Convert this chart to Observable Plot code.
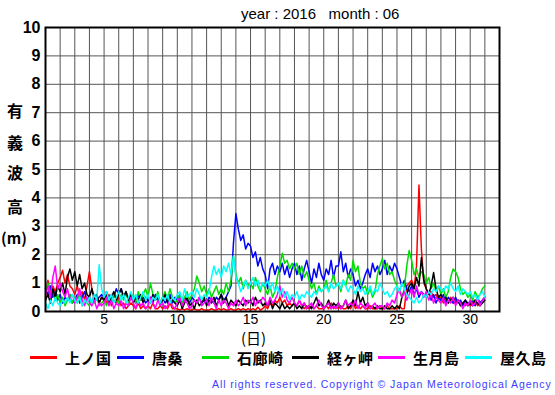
<!DOCTYPE html>
<html><head><meta charset="utf-8">
<script src="https://cdn.jsdelivr.net/npm/d3@7"></script>
<script src="https://cdn.jsdelivr.net/npm/@observablehq/plot@0.6"></script>
<style>
body{margin:0;background:#fff;}
#wrap{position:relative;width:555px;height:395px;overflow:hidden;font-family:"Liberation Sans",Arial,sans-serif;}
.abs{position:absolute;white-space:pre;line-height:1;}
.jp{font-family:"Noto Sans CJK JP",sans-serif;font-weight:700;}
</style></head>
<body><div id="wrap"></div>
<script>
const stations = ["上ノ国","唐桑","石廊崎","経ヶ岬","生月島","屋久島"];
const colors = ["#ff0000","#0000ff","#00dd00","#000000","#ff00ff","#00ffff"];
const xTicks = [5,10,15,20,25,30];
const yTicks = [0,1,2,3,4,5,6,7,8,9,10];
// values every 4 hours from day 1.0 to day 31.0
const kaminokuni = [
0.5,1.1,0.6,0.9,0.7,1.0, 1.2,1.45,1.0,1.3,0.9,0.8, 0.6,0.9,0.5,0.7,0.4,0.9, 1.4,0.8,0.5,0.6,0.3,0.5,
0.4,0.3,0.6,0.2,0.4,0.3, 0.5,0.2,0.3,0.1,0.2,0.3, 0.2,0.1,0.3,0.1,0.2,0.1, 0.2,0.1,0.3,0.1,0.1,0.2,
0.1,0.2,0.1,0.3,0.1,0.1, 0.1,0.05,0.1,0.05,0.1,0.05, 0.05,0.1,0.05,0.05,0.1,0.05, 0.05,0.05,0.1,0.05,0.05,0.1,
0.05,0.1,0.05,0.05,0.1,0.05, 0.05,0.1,0.05,0.1,0.05,0.1, 0.05,0.1,0.05,0.15,0.05,0.1, 0.2,0.1,0.3,0.2,0.4,0.3,
0.5,0.3,0.4,0.2,0.3,0.2, 0.3,0.2,0.4,0.2,0.1,0.2, 0.1,0.2,0.1,0.2,0.1,0.1, 0.1,0.2,0.1,0.3,0.1,0.2,
0.1,0.2,0.1,0.1,0.2,0.1, 0.3,0.1,0.2,0.1,0.2,0.1, 0.1,0.2,0.1,0.1,0.1,0.2, 0.1,0.1,0.2,0.1,0.1,0.1,
0.1,0.2,0.1,0.1,0.9,1.0, 1.1,0.8,1.6,4.45,2.2,1.0, 0.8,0.6,0.7,0.5,0.6,0.4, 0.5,0.3,0.4,0.3,0.5,0.3,
0.3,0.4,0.2,0.3,0.2,0.3, 0.2,0.3,0.4,0.2,0.3,0.4, 0.5];
const karakuwa = [
0.8,0.6,0.9,0.5,0.7,0.4, 0.6,0.3,0.5,0.4,0.6,0.3, 0.4,0.6,0.3,0.5,0.7,0.4, 0.5,0.3,0.6,0.4,0.5,0.6,
0.5,0.7,0.4,0.6,0.5,0.8, 0.6,0.8,0.5,0.7,0.4,0.6, 0.5,0.3,0.6,0.4,0.5,0.3, 0.4,0.5,0.3,0.6,0.4,0.3,
0.5,0.3,0.4,0.6,0.3,0.5, 0.4,0.6,0.3,0.5,0.4,0.3, 0.5,0.4,0.3,0.5,0.3,0.4, 0.3,0.5,0.4,0.3,0.5,0.4,
0.6,0.4,0.5,0.7,0.9,2.4, 3.45,2.9,2.5,2.7,2.2,2.4, 2.3,1.9,2.1,1.6,1.9,1.5, 1.3,0.8,1.5,1.7,1.3,1.6,
1.4,1.7,1.3,1.6,1.2,1.5, 1.7,1.3,1.6,1.1,1.5,1.8, 1.4,1.0,1.5,1.2,1.7,1.3, 1.1,1.5,1.3,1.8,1.2,1.6,
1.6,2.1,1.4,1.7,1.2,1.5, 1.3,0.9,1.1,0.8,1.0,1.3, 1.5,1.2,1.7,1.4,1.6,1.3, 1.5,1.8,1.3,1.6,1.4,1.7,
1.5,1.2,0.9,1.1,0.8,0.7, 0.9,0.6,0.8,0.5,0.7,0.6, 0.5,0.7,0.4,0.6,0.3,0.5, 0.4,0.6,0.3,0.5,0.4,0.3,
0.5,0.3,0.4,0.2,0.4,0.3, 0.3,0.4,0.2,0.5,0.3,0.4, 0.5];
const irozaki = [
0.7,1.0,0.5,0.8,0.4,0.6, 0.3,0.5,0.2,0.4,0.6,0.3, 0.5,0.3,0.6,0.2,0.4,0.3, 0.2,0.4,0.3,0.5,0.2,0.3,
0.4,0.2,0.5,0.3,0.6,0.4, 0.3,0.6,0.4,0.7,0.3,0.5, 0.6,0.3,0.7,0.4,0.6,0.8, 0.5,1.0,0.6,0.4,0.7,0.3,
0.5,0.7,0.4,0.8,0.5,0.3, 0.4,0.6,0.3,0.5,0.7,0.4, 0.6,0.8,1.25,1.0,0.7,0.9, 0.6,0.8,0.5,0.7,0.9,0.6,
0.8,0.6,1.0,0.7,1.1,1.95, 1.3,1.0,1.2,0.8,1.1,0.9, 1.0,0.8,1.2,0.9,0.7,1.0, 0.8,0.6,0.9,0.5,0.7,1.2,
1.6,2.05,1.7,1.8,1.5,1.7, 1.5,1.7,1.3,1.6,1.2,1.4, 1.1,0.8,1.0,0.6,0.9,0.7, 0.8,1.1,0.7,1.0,1.3,0.9,
1.0,0.7,1.1,0.9,1.3,1.1, 1.8,1.4,1.6,1.0,0.8,0.9, 0.6,0.8,0.5,0.7,1.3,1.6, 1.86,1.5,1.7,1.3,1.4,1.1,
0.9,0.7,0.5,0.8,1.6,2.15, 1.8,1.3,1.5,1.2,1.4,1.3, 1.0,1.2,0.8,1.0,0.7,0.9, 0.6,0.8,0.5,0.7,1.2,1.5,
1.4,1.2,0.8,0.6,0.7,0.5, 0.6,0.4,0.7,0.5,0.6,0.8, 0.9];
const kyogamisaki = [
0.4,0.6,0.3,0.8,0.5,0.9, 0.7,1.0,0.6,1.2,1.5,1.1, 1.4,0.9,1.3,0.8,1.0,0.6, 0.5,0.8,0.4,0.6,0.3,0.5,
0.4,0.6,0.3,0.5,0.7,0.4, 0.6,0.8,0.5,0.7,0.4,0.6, 0.3,0.5,0.4,0.6,0.3,0.5, 0.4,0.3,0.6,0.4,0.5,0.3,
0.4,0.6,0.3,0.5,0.4,0.3, 0.2,0.4,0.1,0.3,0.5,0.2, 0.3,0.1,0.4,0.2,0.3,0.5, 0.2,0.4,0.3,0.5,0.2,0.4,
0.6,0.3,0.5,0.2,0.4,0.3, 0.2,0.4,0.3,0.2,0.4,0.3, 0.4,0.2,0.5,0.3,0.4,0.2, 0.3,0.2,0.4,0.1,0.3,0.2,
0.1,0.3,0.1,0.2,0.1,0.2, 0.3,0.1,0.2,0.1,0.3,0.1, 0.2,0.1,0.3,0.5,0.2,0.3, 0.1,0.2,0.4,0.1,0.3,0.2,
0.3,0.1,0.2,0.4,0.1,0.2, 0.4,0.2,0.7,0.3,0.5,0.2, 0.3,0.1,0.2,0.1,0.2,0.1, 0.1,0.2,0.1,0.1,0.2,0.1,
0.2,0.1,0.5,0.7,0.6,0.9, 1.0,0.8,1.2,0.9,1.9,1.1, 0.8,0.6,0.9,1.37,0.8,0.5, 0.6,0.4,0.5,0.3,0.4,0.5,
0.3,0.4,0.2,0.3,0.4,0.2, 0.3,0.2,0.4,0.3,0.2,0.3, 0.4];
const ikitsukishima = [
0.6,0.9,0.5,1.2,1.6,0.8, 1.0,0.7,0.5,0.8,0.4,0.6, 0.3,0.5,0.8,0.4,0.2,0.5, 0.3,0.2,0.4,0.1,0.3,0.2,
0.3,0.5,0.2,0.4,0.1,0.3, 0.2,0.4,0.1,0.3,0.2,0.5, 0.3,0.1,0.4,0.2,0.3,0.1, 0.2,0.5,0.3,0.1,0.4,0.2,
0.3,0.1,0.2,0.4,0.2,0.1, 0.3,0.5,0.2,0.4,0.3,0.1, 0.2,0.4,0.3,0.5,0.2,0.3, 0.4,0.2,0.5,0.3,0.1,0.4,
0.2,0.4,0.3,0.1,0.3,0.2, 0.4,0.2,0.3,0.5,0.2,0.4, 0.3,0.5,0.2,0.4,0.3,0.5, 0.4,0.2,0.5,0.3,0.4,0.6,
0.9,0.5,0.7,0.4,0.3,0.5, 0.3,0.2,0.4,0.2,0.3,0.1, 0.2,0.3,0.1,0.2,0.4,0.2, 0.1,0.2,0.3,0.1,0.2,0.1,
0.3,0.1,0.2,0.4,0.2,0.3, 0.2,0.4,0.1,0.3,0.2,0.1, 0.3,0.1,0.2,0.3,0.1,0.2, 0.2,0.1,0.3,0.2,0.4,0.3,
0.6,0.8,0.5,0.7,0.4,0.6, 0.8,0.5,0.9,0.6,0.7,0.5, 0.7,0.4,0.6,0.3,0.5,0.4, 0.3,0.5,0.2,0.4,0.3,0.5,
0.2,0.4,0.3,0.1,0.3,0.2, 0.4,0.2,0.3,0.5,0.2,0.4, 0.5];
const yakushima = [
0.3,0.1,0.4,0.2,0.5,0.3, 0.2,0.4,0.3,0.5,0.3,0.6, 0.4,0.3,0.5,0.2,0.4,0.3, 0.5,0.3,0.6,0.4,1.65,0.8,
0.5,0.7,0.4,0.6,0.3,0.5, 0.7,0.4,0.6,0.3,0.5,0.7, 0.4,0.6,0.3,0.5,0.7,0.4, 0.6,0.3,0.5,0.4,0.6,0.3,
0.5,0.4,0.6,0.3,0.5,0.4, 0.6,0.7,0.4,0.8,0.5,0.6, 0.7,0.5,0.8,0.6,0.4,0.6, 0.5,0.7,1.2,1.6,1.3,1.5,
1.2,1.6,1.4,1.7,1.3,1.95, 1.2,1.0,0.7,0.9,1.1,0.8, 1.0,1.2,0.9,1.1,0.8,1.0, 0.9,1.1,0.8,1.0,0.7,0.9,
0.6,0.8,0.5,0.7,0.4,0.6, 0.5,0.7,0.4,0.6,0.5,0.7, 0.6,0.5,0.7,0.6,0.8,0.7, 0.8,0.9,0.7,1.0,0.8,0.9,
1.0,0.8,1.1,0.9,0.7,0.9, 0.8,0.6,0.9,0.7,0.8,0.6, 0.7,0.9,0.6,0.8,0.7,1.0, 0.8,0.6,0.7,0.5,0.6,0.8,
0.9,0.7,1.0,0.8,0.6,0.5, 0.4,0.3,0.5,0.3,0.4,0.6, 0.5,0.7,0.6,0.8,0.7,0.9, 0.8,0.7,0.9,0.8,1.0,0.8,
0.7,0.9,0.6,0.8,0.7,0.6, 0.7,0.5,0.6,0.4,0.6,0.7, 0.5];
const seriesValues = [kaminokuni, karakuwa, irozaki, kyogamisaki, ikitsukishima, yakushima];

const rows = [];
seriesValues.forEach((vals, s) => vals.forEach((v, i) => rows.push({station: stations[s], t: 1 + i / 6, v})));

const plot = Plot.plot({
  width: 555, height: 395,
  marginLeft: 45, marginRight: 56, marginTop: 27, marginBottom: 84,
  style: {fontFamily: "Liberation Sans, Arial, sans-serif", background: "#fff", overflow: "visible"},
  x: {domain: [1, 32], ticks: xTicks, tickSize: 0, label: null},
  y: {domain: [0, 10], ticks: yTicks, tickSize: 0, label: null},
  color: {domain: stations, range: colors},
  marks: [
    Plot.gridX(d3.range(2, 32), {stroke: "#555", strokeOpacity: 1, strokeWidth: 1}),
    Plot.gridY(d3.range(1, 10), {stroke: "#555", strokeOpacity: 1, strokeWidth: 1}),
    Plot.line(rows, {x: "t", y: "v", z: "station", stroke: "station", strokeWidth: 1.5, curve: "linear"}),
    Plot.frame({stroke: "#000", strokeWidth: 2}),
    Plot.axisX({ticks: xTicks, tickSize: 0, tickPadding: 3, fontSize: 14, label: null}),
    Plot.axisY({ticks: yTicks, tickSize: 0, tickPadding: 5, fontSize: 16, fontWeight: "bold", label: null})
  ]
});
plot.style.position = "absolute";
plot.style.left = "0px";
plot.style.top = "0px";
const wrap = document.getElementById("wrap");
wrap.appendChild(plot);

function addText(txt, css, cls) {
  const d = document.createElement("div");
  d.className = "abs" + (cls ? " " + cls : "");
  d.textContent = txt;
  Object.assign(d.style, css);
  wrap.appendChild(d);
  return d;
}
addText("year : 2016   month : 06", {left: "241px", top: "6px", fontSize: "15px", color: "#000"});
const ylab = ["有", "義", "波", "高"];
const ylabY = [102, 134, 164, 198];
ylab.forEach((c, i) => addText(c, {left: "7px", top: ylabY[i] + "px", fontSize: "16px"}, "jp"));
addText("(m)", {left: "1px", top: "230px", fontSize: "15px"}, "jp");
addText("(日)", {left: "241px", top: "330px", fontSize: "15px", fontWeight: "400"}, "jp");
const legX = [30, 117, 202, 292, 378, 465];
stations.forEach((s, i) => {
  const sw = document.createElement("div");
  sw.className = "abs";
  Object.assign(sw.style, {left: legX[i] + "px", top: "356px", width: "27px", height: "3px", background: colors[i]});
  wrap.appendChild(sw);
  addText(s, {left: (legX[i] + 35) + "px", top: "350px", fontSize: "15px", letterSpacing: "0.5px"}, "jp");
});
addText("All rights reserved. Copyright © Japan Meteorological Agency", {left: "212px", top: "379px", fontSize: "10.5px", letterSpacing: "0.9px", color: "#3c3cff"});
</script></body></html>
